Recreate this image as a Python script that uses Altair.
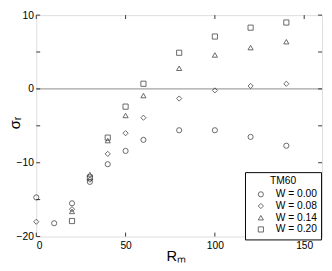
import altair as alt
import pandas as pd

series_labels = ["W = 0.00", "W = 0.08", "W = 0.14", "W = 0.20"]
shapes = ["circle", "diamond", "triangle-up", "square"]

r_w000 = [0, 10, 20, 30, 40, 50, 60, 80, 100, 120, 140]
s_w000 = [-14.7, -18.2, -15.5, -12.6, -10.2, -8.4, -6.9, -5.6, -5.6, -6.5, -7.7]
r_w008 = [0, 20, 30, 40, 50, 60, 80, 100, 120, 140]
s_w008 = [-18.0, -16.3, -12.3, -8.8, -6.0, -3.9, -1.3, -0.2, 0.4, 0.7]
r_w014 = [20, 30, 40, 50, 60, 80, 100, 120, 140]
s_w014 = [-16.6, -11.6, -7.0, -3.6, -0.9, 2.8, 4.6, 5.6, 6.4]
r_w020 = [20, 30, 40, 50, 60, 80, 100, 120, 140]
s_w020 = [-17.9, -12.0, -6.6, -2.4, 0.7, 4.9, 7.1, 8.3, 9.0]

x_ticks = [0, 50, 100, 150]
y_ticks = [-20, -15, -10, -5, 0, 5, 10]

rows = []
for lab, rr, ss in zip(series_labels, [r_w000, r_w008, r_w014, r_w020],
                       [s_w000, s_w008, s_w014, s_w020]):
    for a, b in zip(rr, ss):
        rows.append({"R": a, "s": b, "W": lab})
df = pd.DataFrame(rows)

W = 293
H = 227
FONT = "Liberation Sans"
FS = 10.5

xs = alt.Scale(domain=[0, 160], nice=False, zero=False)
ys = alt.Scale(domain=[-20, 10], nice=False, zero=False)

xaxis = alt.Axis(values=x_ticks, grid=False, domain=False, ticks=False,
                 labelPadding=4, labelFontSize=FS, labelFont=FONT,
                 labelColor="black", title="Rₘ", titleFont=FONT,
                 titleFontSize=15, titleFontWeight="normal",
                 titleColor="black", titleX=143, titleY=13,
                 titleBaseline="top")
yaxis = alt.Axis(values=y_ticks, grid=False, domain=False, ticks=False,
                 labelPadding=3, labelFontSize=FS, labelFont=FONT,
                 labelColor="black", title="σᵣ", titleFont=FONT,
                 titleFontSize=15, titleFontWeight="normal",
                 titleColor="black", titleX=-14, titleY=110)

zero = alt.Chart(pd.DataFrame({"y": [0]})).mark_rule(
    color="#8a8a8a", strokeWidth=1
).encode(y=alt.Y("y:Q", scale=ys, axis=yaxis))

points = alt.Chart(df).mark_point(filled=False, size=28, strokeWidth=0.9,
                                  color="#111").encode(
    x=alt.X("R:Q", scale=xs, axis=xaxis),
    y=alt.Y("s:Q", scale=ys, axis=yaxis),
    shape=alt.Shape("W:N", scale=alt.Scale(domain=series_labels, range=shapes),
                    legend=alt.Legend(
                        title="TM60", orient="none", legendX=214, legendY=161,
                        titleAnchor="middle", titleFont=FONT, titleFontSize=FS,
                        titleFontWeight="normal", titleColor="black",
                        titlePadding=3,
                        labelFont=FONT, labelFontSize=FS, labelColor="black",
                        symbolSize=28, symbolStrokeWidth=0.9,
                        symbolStrokeColor="#111", symbolFillColor="transparent",
                        strokeColor="black", fillColor="white", padding=4,
                        rowPadding=1, symbolOffset=7, labelOffset=10,
                        cornerRadius=0)),
)

xt = pd.DataFrame({"x": x_ticks})
yt = pd.DataFrame({"y": y_ticks})
tick_top = alt.Chart(xt).mark_rule(color="#333").encode(
    x=alt.X("x:Q", scale=xs), y=alt.value(0), y2=alt.value(4))
tick_bot = alt.Chart(xt).mark_rule(color="#333").encode(
    x=alt.X("x:Q", scale=xs), y=alt.value(H), y2=alt.value(H - 4))
tick_left = alt.Chart(yt).mark_rule(color="#333").encode(
    y=alt.Y("y:Q", scale=ys), x=alt.value(0), x2=alt.value(4))
tick_right = alt.Chart(yt).mark_rule(color="#333").encode(
    y=alt.Y("y:Q", scale=ys), x=alt.value(W), x2=alt.value(W - 4))

chart = alt.layer(zero, tick_top, tick_bot, tick_left, tick_right, points).properties(
    width=W, height=H,
    autosize=alt.AutoSizeParams(type="none"),
    padding={"left": 29, "top": 4, "right": 2, "bottom": 30},
).configure_view(stroke="#222", strokeWidth=1).configure(background="white")

chart.save("out.html", embed_options={"renderer": "svg", "actions": False})
